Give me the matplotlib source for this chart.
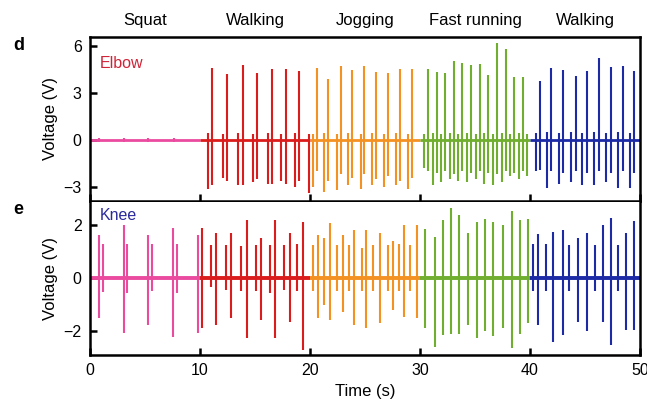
import numpy as np
import matplotlib
matplotlib.use("Agg")
import matplotlib.pyplot as plt

plt.rcParams['font.family'] = ['Liberation Sans', 'DejaVu Sans']

# ---- data ----
segment_names = ["Squat", "Walking", "Jogging", "Fast running", "Walking"]
segment_edges = [0, 10, 20, 30, 40, 50]
segment_colors = ["#ea4b9f", "#da1c1c", "#f39222", "#6fae2f", "#1c2aa6"]

# Elbow spikes: time (s), positive peak (V), negative peak (V)
elbow_t = [0.85, 3.1, 5.3, 7.6,
           10.7, 11.12, 12.06, 12.48, 13.5, 13.94, 14.8, 15.21, 16.15, 16.57,
           17.37, 17.79, 18.6, 19.03, 19.9,
           20.25, 20.6, 21.3, 21.6, 22.45, 22.8, 23.5, 23.85, 24.6, 24.94,
           25.65, 26.0, 26.7, 27.06, 27.85, 28.2, 28.95, 29.3,
           30.4, 30.76, 31.16, 31.52, 31.9, 32.27, 32.73, 33.09, 33.49, 33.85,
           34.28, 34.64, 35.09, 35.45, 35.85, 36.21, 36.67, 37.03, 37.43, 37.79,
           38.22, 38.58, 39.03, 39.39, 39.75,
           40.5, 40.9, 41.5, 41.9, 42.6, 43.03, 43.7, 44.15, 44.75, 45.15,
           45.85, 46.27, 46.95, 47.36, 48.0, 48.43, 49.05, 49.48]
elbow_hi = [0.15, 0.15, 0.12, 0.15,
            0.45, 4.61, 0.4, 4.26, 0.45, 4.79, 0.4, 4.32, 0.45, 4.58,
            0.4, 4.58, 0.45, 4.42, 0.4,
            0.4, 4.6, 0.45, 3.94, 0.4, 4.74, 0.45, 4.47, 0.4, 4.74,
            0.45, 4.36, 0.4, 4.32, 0.45, 4.53, 0.4, 4.53,
            0.4, 4.57, 0.45, 4.36, 0.4, 4.32, 0.45, 5.04, 0.4, 4.96,
            0.45, 4.79, 0.4, 4.89, 0.45, 4.19, 0.4, 6.23, 0.45, 5.81,
            0.4, 4.04, 0.45, 4.04, 0.4,
            0.45, 3.77, 0.5, 4.61, 0.45, 4.47, 0.5, 4.1, 0.45, 4.4,
            0.5, 5.25, 0.45, 4.68, 0.5, 4.74, 0.45, 4.4]
elbow_lo = [-0.1, -0.12, -0.1, -0.12,
            -3.1, -2.9, -2.4, -2.6, -2.9, -2.9, -2.7, -2.5, -2.8, -2.8,
            -2.6, -2.8, -3.0, -2.6, -3.4,
            -3.0, -2.0, -3.3, -2.6, -3.2, -2.2, -2.9, -2.4, -3.1, -2.2,
            -2.9, -2.5, -3.0, -2.3, -2.9, -2.6, -3.1, -2.4,
            -1.8, -2.0, -2.9, -2.1, -2.7, -2.0, -2.5, -2.2, -2.6, -2.0,
            -2.7, -2.1, -2.5, -2.0, -2.8, -2.1, -2.9, -2.2, -2.7, -2.0,
            -2.3, -2.1, -2.5, -2.0, -2.3,
            -2.0, -1.9, -3.06, -2.0, -2.8, -2.1, -2.7, -2.0, -2.9, -2.1,
            -2.9, -2.0, -2.7, -2.1, -3.06, -2.0, -3.06, -2.1]

# Knee spikes: time (s), positive peak (V), negative peak (V)
knee_t = [0.85, 1.2, 3.09, 3.39, 5.3, 5.6, 7.58, 7.88, 9.85,
          10.18, 11.03, 11.48, 12.33, 12.85, 13.76, 14.3, 15.12, 15.57, 16.33,
          16.85, 17.64, 18.15, 18.85, 19.39,
          20.3, 20.76, 21.3, 21.82, 22.48, 23.03, 23.58, 24.0, 24.7, 25.09,
          25.7, 26.36, 27.06, 27.52, 28.12, 28.55, 29.09, 29.7,
          30.45, 31.36, 32.06, 32.79, 33.58, 34.39, 35.15, 35.91, 36.67,
          37.52, 38.33, 39.09, 39.85,
          40.24, 40.7, 41.45, 42.06, 42.97, 43.58, 44.33, 45.15, 45.9,
          46.67, 47.33, 48.03, 48.73, 49.48]
knee_hi = [1.62, 1.28, 2.0, 1.3, 1.62, 1.3, 1.89, 1.3, 1.62,
           1.89, 1.25, 1.7, 1.25, 1.7, 1.2, 2.19, 1.25, 1.5, 1.25,
           2.19, 1.25, 1.7, 1.3, 2.1,
           1.25, 1.62, 1.52, 2.06, 1.25, 1.62, 1.25, 1.81, 1.15, 1.8,
           1.25, 1.7, 1.25, 1.4, 1.3, 2.0, 1.25, 2.0,
           1.87, 1.56, 2.19, 2.65, 2.38, 1.69, 2.12, 2.23, 2.12,
           2.0, 2.53, 2.19, 2.23,
           1.27, 1.65, 1.27, 1.75, 1.81, 1.25, 1.5, 1.7, 1.25,
           2.0, 2.25, 1.25, 1.7, 2.15]
knee_lo = [-1.5, -0.53, -2.08, -0.55, -1.77, -0.5, -2.23, -0.55, -2.06,
           -1.89, -0.34, -1.77, -0.45, -1.51, -0.5, -2.26, -0.5, -1.58, -0.55,
           -2.26, -0.45, -1.64, -0.5, -2.72,
           -0.5, -1.5, -1.0, -1.58, -0.5, -1.27, -0.5, -1.77, -0.5, -1.89,
           -0.5, -1.7, -0.5, -1.2, -0.5, -1.46, -0.5, -1.5,
           -1.9, -2.6, -2.15, -2.1, -2.1, -1.77, -2.26, -2.0, -2.2,
           -1.9, -2.64, -2.1, -1.7,
           -0.5, -1.77, -0.5, -2.4, -2.15, -0.5, -1.65, -2.0, -0.5,
           -1.65, -2.53, -0.5, -1.95, -1.95]

# ---- figure ----
W, H = 647, 403
fig = plt.figure(figsize=(W / 100, H / 100), dpi=100)
ax1 = fig.add_axes([90 / W, 1 - 201 / H, 550 / W, 164 / H])
ax2 = fig.add_axes([90 / W, 1 - 355 / H, 550 / W, 153 / H])


def draw(ax, t, hi, lo, base_lw):
    t = np.asarray(t)
    idx = np.searchsorted(segment_edges, t, side='right') - 1
    for i, c in enumerate(segment_colors):
        ax.hlines(0, segment_edges[i], segment_edges[i + 1], color=c,
                  lw=base_lw, zorder=2)
        m = idx == i
        ax.vlines(t[m], np.asarray(lo)[m], np.asarray(hi)[m], color=c,
                  lw=1.5, zorder=3)


draw(ax1, elbow_t, elbow_hi, elbow_lo, 2.0)
draw(ax2, knee_t, knee_hi, knee_lo, 2.8)

fs = 11.5
for ax in (ax1, ax2):
    ax.set_xlim(0, 50)
    ax.set_xticks([0, 10, 20, 30, 40, 50])
    ax.tick_params(direction='in', length=5, width=1.8, labelsize=fs, pad=6)
    for s in ax.spines.values():
        s.set_linewidth(1.8)
    ax.set_ylabel("Voltage (V)", fontsize=fs + 0.5, labelpad=4)

ax1.set_ylim(-3.9, 6.6)
ax1.set_yticks([-3, 0, 3, 6])
ax1.set_yticklabels(["\u22123", "0", "3", "6"])
ax1.tick_params(axis='x', labelbottom=False)

ax2.set_ylim(-2.9, 2.87)
ax2.set_yticks([-2, 0, 2])
ax2.set_yticklabels(["\u22122", "0", "2"])
ax2.spines['top'].set_visible(False)
ax2.set_xlabel("Time (s)", fontsize=fs + 0.5, labelpad=4)

# activity labels above the top panel
for i, name in enumerate(segment_names):
    mid = (segment_edges[i] + segment_edges[i + 1]) / 2
    ax1.text(mid, 1.0 + 16 / 164, name, transform=ax1.get_xaxis_transform(),
             ha='center', va='center', fontsize=fs + 0.5)

ax1.text(0.018, 0.84, "Elbow", transform=ax1.transAxes, color="#d02438",
         fontsize=fs, ha='left', va='center')
ax2.text(0.018, 0.91, "Knee", transform=ax2.transAxes, color="#2b2a9c",
         fontsize=fs, ha='left', va='center')

fig.text(13 / W, 1 - 46 / H, "d", fontsize=13, fontweight='bold',
         ha='left', va='center')
fig.text(13 / W, 1 - 209 / H, "e", fontsize=13, fontweight='bold',
         ha='left', va='center')

fig.savefig("out.png", dpi=100)
